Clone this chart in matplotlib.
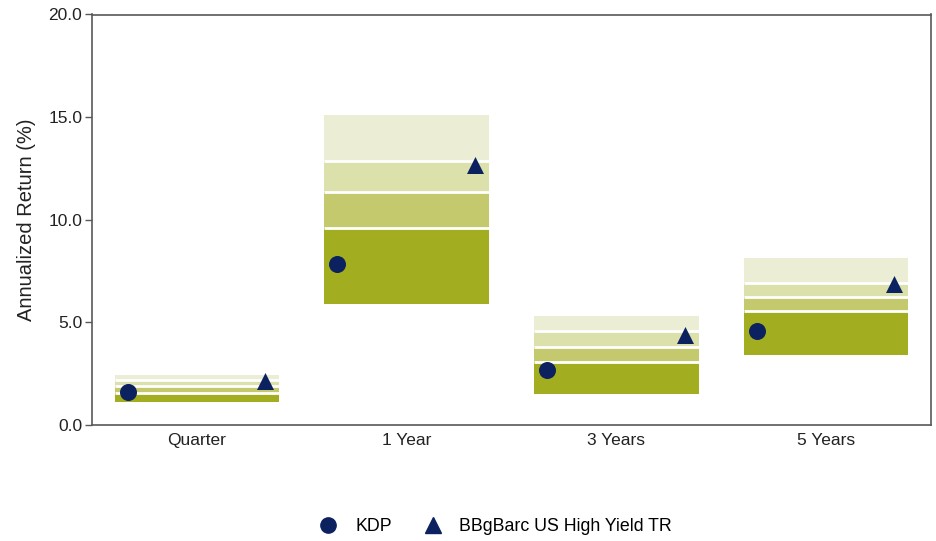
import matplotlib
matplotlib.use("Agg")
import matplotlib.pyplot as plt
from matplotlib.lines import Line2D

categories = ["Quarter", "1 Year", "3 Years", "5 Years"]
p95 = [2.45, 15.09, 5.33, 8.13]
p75 = [2.20, 12.85, 4.60, 6.94]
p50 = [1.92, 11.35, 3.82, 6.24]
p25 = [1.57, 9.61, 3.06, 5.53]
p05 = [1.12, 5.90, 1.50, 3.40]
kdp = [1.62, 7.84, 2.68, 4.60]
bench = [2.13, 12.65, 4.40, 6.85]
yticks = [0.0, 5.0, 10.0, 15.0, 20.0]

plt.rcParams['font.family'] = ['Liberation Sans', 'DejaVu Sans']

band_colors = ["#A2AD1F", "#C3C96C", "#DCE0AA", "#EBEDD4"]
navy = "#0B2160"
frame = "#595959"

fig = plt.figure(figsize=(9.36, 5.41), dpi=100)
ax = fig.add_axes([92/936, (541-425)/541, (931-92)/936, (425-14.5)/541])

width = 0.785
x = list(range(len(categories)))
lows = [p05, p25, p50, p75]
highs = [p25, p50, p75, p95]
for lo, hi, c in zip(lows, highs, band_colors):
    ax.bar(x, [h - l for h, l in zip(hi, lo)], bottom=lo, width=width,
           color=c, edgecolor='none', zorder=2)
for b in (p25, p50, p75):
    for xi, v in zip(x, b):
        ax.hlines(v, xi - width/2, xi + width/2, colors='white', lw=2.0, zorder=3)

ax.scatter([xi - 0.33 for xi in x], kdp, marker='o', s=150, color=navy, zorder=4, linewidths=0)
ax.scatter([xi + 0.325 for xi in x], bench, marker='^', s=150, color=navy, zorder=4, linewidths=0)

ax.set_xlim(-0.5, 3.5)
ax.set_ylim(0, 20)
ax.set_yticks(yticks)
ax.set_yticklabels([f"{v:.1f}" for v in yticks], fontsize=12.5, color="#222222")
ax.set_xticks(x)
ax.set_xticklabels(categories, fontsize=12.5, color="#222222")
ax.tick_params(axis='x', length=0, pad=6)
ax.tick_params(axis='y', length=5, width=1, color=frame, pad=2)
for s in ax.spines.values():
    s.set_color(frame)
    s.set_linewidth(1.2)
ax.set_ylabel("Annualized Return (%)", fontsize=14.5, color="#222222", labelpad=9)

handles = [Line2D([], [], marker='o', color=navy, linestyle='none', markersize=11),
           Line2D([], [], marker='^', color=navy, linestyle='none', markersize=11)]
fig.legend(handles, ["KDP", "BBgBarc US High Yield TR"], loc='center',
           bbox_to_anchor=(0.525, 0.026), ncol=2, frameon=False, fontsize=12.8,
           handletextpad=0.5, columnspacing=1.3)

fig.savefig("out.png", dpi=100)
